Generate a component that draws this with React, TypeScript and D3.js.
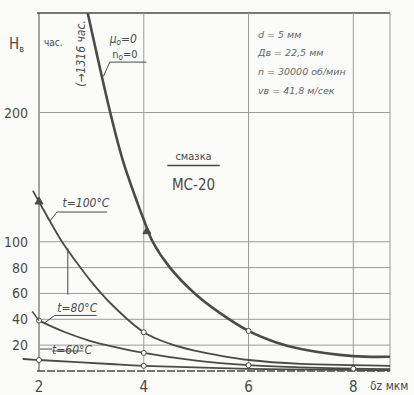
import React from 'react';
import * as d3 from 'd3';

// values (x = δz, мкм; y = Hв, час.)
const xTicks = [2, 4, 6, 8];
const yTicks = [20, 40, 60, 80, 100, 200];

const curveMain: [number, number][] = [
  [2.93, 277], [3.36, 200], [3.6, 163], [4, 117], [4.17, 100], [4.5, 80],
  [5, 59], [5.45, 45], [6, 31], [6.5, 22.5], [7, 17], [8, 11.5], [8.7, 11],
];
const curve100: [number, number][] = [
  [1.89, 139], [2, 131], [2.44, 100], [2.7, 85], [3, 69], [3.35, 53], [4, 30],
  [4.5, 21], [5, 15.5], [5.5, 11.5], [6, 8.5], [7, 5.5], [8, 4.5], [8.7, 4],
];
const curve80: [number, number][] = [
  [2, 39], [2.5, 30], [3, 23], [3.35, 19.5], [4, 14], [5, 8], [6, 4.5], [7, 2.8], [8, 1.8], [8.7, 1.4],
];
const curve60: [number, number][] = [
  [1.7, 9.3], [2, 8.5], [3.35, 5.4], [4, 4], [6, 1.7], [8, 0.8], [8.7, 0.6],
];

const triangles: [number, number][] = [[2, 131], [4.06, 108]];
const circles: [number, number][] = [[4, 30], [4, 14], [4, 4], [6, 31], [6, 4.5], [2, 39], [2, 8.5], [8, 1.8]];

const params = ['d = 5 мм', 'Дв = 22,5 мм', 'n = 30000 об/мин', 'vв = 41,8 м/сек'];

const W = 414;
const H = 395;
const ink = '#4a4a4a';
const grid = '#9a9a9a';
const font = "'Liberation Sans Narrow', 'DejaVu Sans Condensed', sans-serif";

const App = () => {
  const x = d3.scaleLinear().domain([2, 8.7]).range([39, 390]);
  const y = d3.scaleLinear().domain([0, 277]).range([371, 13]);

  const line = d3.line<[number, number]>()
    .x(d => x(d[0]))
    .y(d => y(d[1]))
    .curve(d3.curveCatmullRom.alpha(0.5));

  const [x0, x1] = x.range();
  const [yb, yt] = y.range();

  return (
    <svg width={W} height={H} style={{ position: 'absolute', left: 0, top: 0, background: '#fbfbfa' }}>
      <defs>
        <clipPath id="plot">
          <rect x={x0 - 20} y={yt} width={x1 - x0 + 20} height={yb - yt} />
        </clipPath>
      </defs>

      {/* frame and grid */}
      <g stroke={grid} strokeWidth={1} fill="none">
        <line x1={x0 - 2} x2={x1} y1={yt} y2={yt} stroke={ink} strokeWidth={1.5} />
        <line x1={x1} x2={x1} y1={yt} y2={yb} />
        <line x1={x0} x2={x0} y1={yt} y2={yb} stroke={ink} />
        {xTicks.slice(1).map(t => (
          <line key={t} x1={x(t)} x2={x(t)} y1={yt} y2={yb} />
        ))}
        {yTicks.map(t => (
          <line key={t} x1={x0} x2={x1} y1={y(t)} y2={y(t)} />
        ))}
        <line x1={x0 - 2} x2={x1} y1={yb} y2={yb} stroke={ink} strokeWidth={1.3} strokeDasharray="8 2" />
      </g>

      {/* tick labels */}
      <g fill={ink} fontFamily={font}>
        {yTicks.map(t => (
          <text key={t} x={28} y={y(t) + 5} fontSize={14} textAnchor="end">{t}</text>
        ))}
        {xTicks.map(t => (
          <text key={t} x={x(t)} y={392} fontSize={15} textAnchor="middle">{t}</text>
        ))}
        <text x={370} y={390} fontSize={12}>δz мкм</text>
        <text x={9} y={49} fontSize={15}>H<tspan fontSize={9} dy={3}>в</tspan></text>
        <text x={44} y={46} fontSize={10}>час.</text>
      </g>

      {/* curves */}
      <g clipPath="url(#plot)" fill="none" stroke={ink} strokeLinecap="round">
        <path d={line(curveMain) || ''} strokeWidth={2.6} />
        <path d={line(curve100) || ''} strokeWidth={1.8} />
        <path d={line(curve80) || ''} strokeWidth={1.8} />
        <path d={line(curve60) || ''} strokeWidth={1.8} />
      </g>

      {/* markers */}
      <g fill="none" stroke={ink} strokeWidth={1}>
        {triangles.map(([a, b], i) => (
          <path key={i} d={d3.symbol(d3.symbolTriangle, 28)() || ''} transform={`translate(${x(a)},${y(b)})`} fill={ink} />
        ))}
        {circles.map(([a, b], i) => (
          <circle key={i} cx={x(a)} cy={y(b)} r={2.5} fill="#fbfbfa" />
        ))}
      </g>

      {/* annotations */}
      <g stroke={ink} strokeWidth={1} fill="none">
        <polyline points={`${x(3.23)},${y(228)} ${x(3.35)},${y(239)} ${x(4.05)},${y(239)}`} />
        <polyline points={`${x(2.21)},${y(116)} ${x(2.34)},${y(123)} ${x(3.3)},${y(123)}`} />
        <line x1={x(2.55)} x2={x(2.55)} y1={y(95)} y2={y(59)} />
        <line x1={x(1.87)} x2={x(2)} y1={y(46)} y2={y(39)} strokeWidth={1.5} />
        <polyline points={`${x(2.1)},${y(37)} ${x(2.3)},${y(43)} ${x(3.1)},${y(43)}`} />
        <line x1={x(2.02)} x2={x(2.25)} y1={y(17)} y2={y(17)} />
        <line x1={x(2.25)} x2={x(2.85)} y1={y(15.5)} y2={y(15.5)} />
        <line x1={x(4.45)} x2={x(5.45)} y1={y(159)} y2={y(159)} strokeWidth={1.4} />
      </g>
      <g fill={ink} fontFamily={font}>
        <text x={x(3.35)} y={y(254)} fontSize={12} fontStyle="italic">μ<tspan fontSize={8} dy={2}>o</tspan><tspan dy={-2}>=0</tspan></text>
        <text x={x(3.4)} y={y(242)} fontSize={11}>n<tspan fontSize={8} dy={2}>o</tspan><tspan dy={-2}>=0</tspan></text>
        <text transform={`translate(${x(2.88)},${y(220)}) rotate(-90)`} fontSize={12} fontStyle="italic">(→1316 час.</text>
        <text x={x(2.45)} y={y(127)} fontSize={12} fontStyle="italic">t=100°C</text>
        <text x={x(2.35)} y={y(46)} fontSize={12} fontStyle="italic">t=80°C</text>
        <text x={x(2.25)} y={y(13.5)} fontSize={12} fontStyle="italic">t=60°C</text>
        <text x={x(4.95)} y={y(163)} fontSize={11} textAnchor="middle">смазка</text>
        <text x={x(4.95)} y={y(140)} fontSize={15} textAnchor="middle">МС-20</text>
      </g>
      <g fill="#666" fontFamily="'DejaVu Sans', sans-serif" fontStyle="italic" fontSize={9.5}>
        {params.map((p, i) => (
          <text key={p} x={x(6.18)} y={y(258 - i * 14.5)}>{p}</text>
        ))}
      </g>
    </svg>
  );
};

export default App;
